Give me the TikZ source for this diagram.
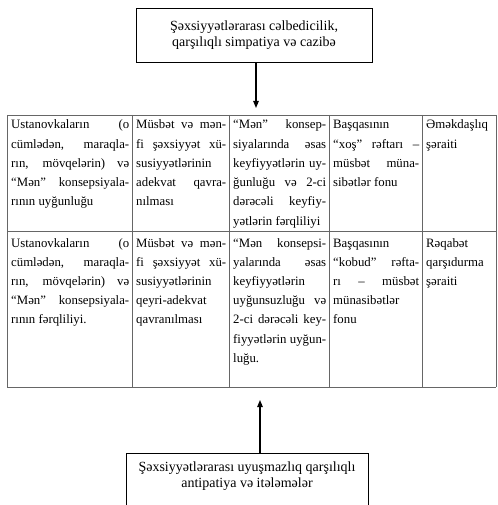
\documentclass[tikz,border=0pt]{standalone}
\usepackage{fontspec}
\setmainfont{Liberation Serif}
\usetikzlibrary{arrows.meta,positioning,calc}
\tikzset{
  boxblk/.style={draw,rectangle,line width=0.8pt,align=center,font=\fontsize{14}{16}\selectfont},
  cell/.style={anchor=base west,inner sep=0pt,align=justify,font=\fontsize{12.8}{19.2}\selectfont},
  tabline/.style={draw=black!60,line width=0.9pt},
  arr/.style={-{Triangle[length=7pt,width=5.5pt]},line width=1.1pt}
}
\tolerance=10000 \hbadness=10000 \hfuzz=20pt \hyphenpenalty=10000 \exhyphenpenalty=10000

\begin{document}
\begin{tikzpicture}[x=1pt,y=-1pt]
  \useasboundingbox (0,0) rectangle (497,505);
  \clip (0,0) rectangle (497,505);

  % boxes
  \node[boxblk,minimum width=236,minimum height=54] (top) at (254,35)
    {Şəxsiyyətlərarası cəlbedicilik,\\qarşılıqlı simpatiya və cazibə};
  \node[boxblk,minimum width=242,anchor=north,text depth=40pt,inner ysep=8pt] (bot) at (247,453)
    {Şəxsiyyətlərarası uyuşmazlıq qarşılıqlı\\antipatiya və itələmələr};

  % table
  \foreach \x in {7,132,229,329,422,496}
    \draw[tabline] (\x,115) -- (\x,387);
  \foreach \y in {115,231,387}
    \draw[tabline] (7,\y) -- (496,\y);

  \node[cell,text width=118] (r1c1) at (11,129) {Ustanovkaların (o\linebreak cümlədən, maraqla-\linebreak rın, mövqelərin) və\linebreak “Mən” konsepsiyala-\linebreak rının uyğunluğu};
  \node[cell,text width=90] (r1c2) at (136,129) {Müsbət və mən-\linebreak fi şəxsiyyət xü-\linebreak susiyyətlərinin\linebreak adekvat qavra-\linebreak nılması};
  \node[cell,text width=93] (r1c3) at (233,129) {“Mən” konsep-\linebreak siyalarında~əsas\linebreak keyfiyyətlərin~uy-\linebreak ğunluğu~və~2-ci\linebreak dərəcəli~keyfiy-\linebreak yətlərin~fərqliliyi};
  \node[cell,text width=86] (r1c4) at (333,129) {Başqasının\linebreak “xoş” rəftarı –\linebreak müsbət müna-\linebreak sibətlər fonu};
  \node[cell,text width=67] (r1c5) at (426,129) {Əməkdaşlıq\linebreak şəraiti};

  \node[cell,text width=118] (r2c1) at (11,247) {Ustanovkaların (o\linebreak cümlədən, maraqla-\linebreak rın, mövqelərin) və\linebreak “Mən” konsepsiyala-\linebreak rının fərqliliyi.};
  \node[cell,text width=90] (r2c2) at (136,247) {Müsbət və mən-\linebreak fi şəxsiyyət xü-\linebreak susiyyətlərinin\linebreak qeyri-adekvat\linebreak qavranılması};
  \node[cell,text width=93] (r2c3) at (233,247) {“Mən~konsepsi-\linebreak yalarında~əsas\linebreak keyfiyyətlərin\linebreak uyğunsuzluğu~və\linebreak 2-ci~dərəcəli~key-\linebreak fiyyətlərin~uyğun-\linebreak luğu.};
  \node[cell,text width=86] (r2c4) at (333,247) {Başqasının\linebreak “kobud” rəfta-\linebreak rı – müsbət\linebreak münasibətlər\linebreak fonu};
  \node[cell,text width=67] (r2c5) at (426,247) {Rəqabət\linebreak qarşıdurma\linebreak şəraiti};

  % arrows
  \coordinate (tipT) at (256,108);
  \coordinate (tipB) at (260,400);
  \draw[arr] (top.south -| tipT) -- (tipT);
  \draw[arr] (bot.north -| tipB) -- (tipB);
\end{tikzpicture}
\end{document}
